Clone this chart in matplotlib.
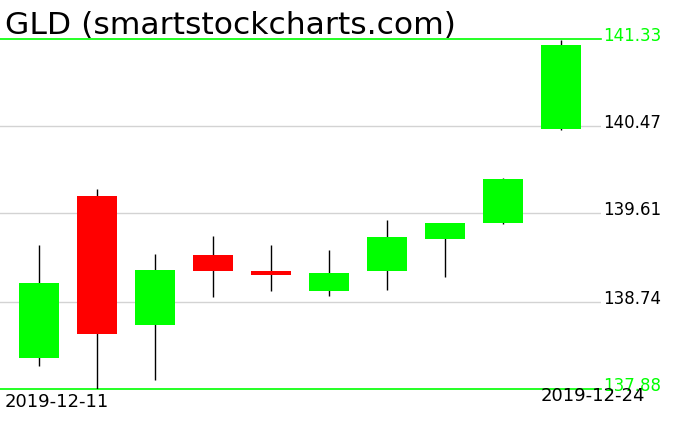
import matplotlib
matplotlib.use("Agg")
import matplotlib.pyplot as plt
from matplotlib.patches import Rectangle

title = "GLD (smartstockcharts.com)"
dates = ["2019-12-11", "2019-12-12", "2019-12-13", "2019-12-16", "2019-12-17",
         "2019-12-18", "2019-12-19", "2019-12-20", "2019-12-23", "2019-12-24"]
opens = [138.19, 139.78, 138.51, 139.20, 139.04, 138.85, 139.04, 139.36, 139.52, 140.44]
highs = [139.30, 139.85, 139.21, 139.39, 139.30, 139.25, 139.55, 139.52, 139.96, 141.32]
lows = [138.11, 137.88, 137.97, 138.79, 138.85, 138.80, 138.86, 138.98, 139.51, 140.43]
closes = [138.925, 138.425, 139.05, 139.04, 139.00, 139.02, 139.38, 139.52, 139.95, 141.27]
ymin, ymax = 137.88, 141.33
grid_levels = [140.47, 139.61, 138.74]

W, H = 676, 431
fig = plt.figure(figsize=(W / 100, H / 100), dpi=100)
ax = fig.add_axes([0, 41 / H, 601 / W, 350 / H])
ax.set_xlim(-39 / 58, (601 - 39) / 58)
ax.set_ylim(ymin, ymax)
ax.axis("off")

green = "#00ff00"
red = "#ff0000"
for lv in grid_levels:
    ax.axhline(lv, color="#d3d3d3", lw=1.0, zorder=1)
ax.axhline(ymax, color=green, lw=1.2, zorder=1, clip_on=False)
ax.axhline(ymin, color=green, lw=1.2, zorder=1, clip_on=False)

bw = 40 / 58
for i, (o, h, l, c) in enumerate(zip(opens, highs, lows, closes)):
    ax.plot([i, i], [l, h], color="black", lw=1.0, zorder=2, solid_capstyle="butt")
    col = green if c >= o else red
    ax.add_patch(Rectangle((i - bw / 2, min(o, c)), bw, abs(c - o), facecolor=col,
                           edgecolor="none", zorder=3))

# right-side price labels
for lv, colr in [(ymax, green), (140.47, "black"), (139.61, "black"), (138.74, "black"), (ymin, green)]:
    ax.annotate(f"{lv:.2f}", xy=(1, lv), xycoords=("axes fraction", "data"),
                xytext=(2, 4), textcoords="offset pixels", ha="left", va="center",
                fontsize=12, color=colr)

fig.text(5 / W, 1 - 26 / H, title, fontsize=22.6, ha="left", va="center", color="black")
fig.text(5 / W, 1 - 402 / H, dates[0], fontsize=13, ha="left", va="center", color="black")
fig.text(645 / W, 1 - 396 / H, dates[-1], fontsize=13, ha="right", va="center", color="black")

fig.savefig("out.png", dpi=100, facecolor="white")
